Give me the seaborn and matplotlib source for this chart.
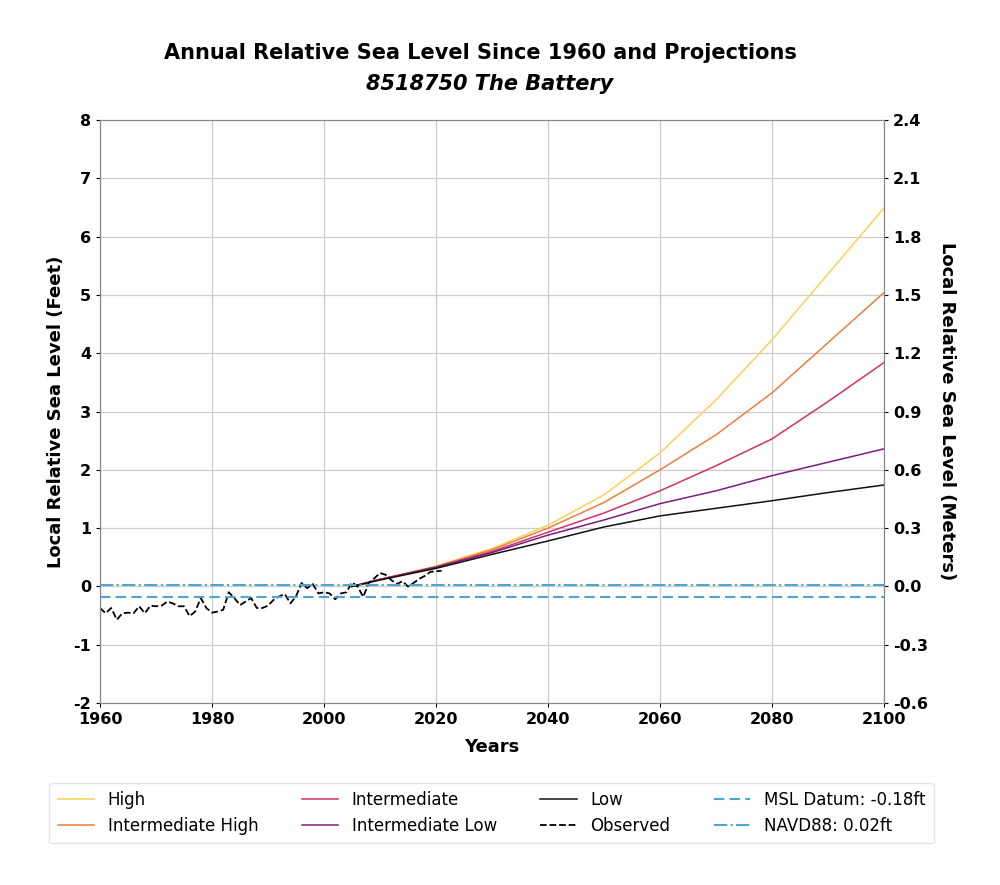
import matplotlib
matplotlib.use('Agg')
import matplotlib.pyplot as plt
import seaborn as sns
import pandas as pd

plt.rcParams['axes.unicode_minus'] = False

# --- Data ---
proj_years = [2005, 2010, 2020, 2030, 2040, 2050, 2060, 2070, 2080, 2090, 2100]
high = [0.0, 0.12, 0.35, 0.65, 1.05, 1.57, 2.29, 3.20, 4.23, 5.36, 6.49]
int_high = [0.0, 0.12, 0.34, 0.63, 1.00, 1.44, 2.00, 2.60, 3.32, 4.18, 5.04]
intermediate = [0.0, 0.12, 0.33, 0.60, 0.93, 1.26, 1.64, 2.07, 2.53, 3.17, 3.84]
int_low = [0.0, 0.12, 0.33, 0.58, 0.88, 1.14, 1.42, 1.64, 1.90, 2.13, 2.36]
low = [0.0, 0.11, 0.31, 0.55, 0.78, 1.02, 1.21, 1.34, 1.47, 1.61, 1.74]

obs_years = list(range(1960, 2022))
observed = [-0.37, -0.46, -0.37, -0.57, -0.46, -0.45, -0.46, -0.34, -0.46, -0.33,
            -0.34, -0.33, -0.26, -0.29, -0.34, -0.34, -0.51, -0.43, -0.20, -0.37,
            -0.45, -0.43, -0.40, -0.10, -0.20, -0.32, -0.26, -0.20, -0.37, -0.37,
            -0.33, -0.23, -0.17, -0.13, -0.29, -0.17, 0.06, -0.03, 0.04, -0.12,
            -0.10, -0.12, -0.22, -0.12, -0.10, 0.07, 0.00, -0.18, 0.06, 0.14,
            0.23, 0.20, 0.11, 0.04, 0.09, 0.00, 0.06, 0.13, 0.18, 0.25,
            0.26, 0.27]

msl_datum = -0.18
navd88 = 0.02

series = [
    ('High', high, '#f7d257'),
    ('Intermediate High', int_high, '#ef7d3c'),
    ('Intermediate', intermediate, '#d1306c'),
    ('Intermediate Low', int_low, '#7d1d7f'),
    ('Low', low, '#111111'),
]

# --- Plot ---
fig = plt.figure(figsize=(10, 8.85), dpi=100)
ax = fig.add_axes([0.1, 0.2056, 0.784, 0.6588])

for name, vals, color in series:
    df = pd.DataFrame({'year': proj_years, 'ft': vals})
    sns.lineplot(data=df, x='year', y='ft', ax=ax, color=color, linewidth=1.1, label=name)

obs_df = pd.DataFrame({'year': obs_years, 'ft': observed})
sns.lineplot(data=obs_df, x='year', y='ft', ax=ax, color='black', linewidth=1.3,
             linestyle='--', label='Observed')

ax.axhline(msl_datum, color='#4ea6d0', linestyle=(0, (5, 2.5)), linewidth=1.5,
           label=f'MSL Datum: {msl_datum:.2f}ft')
ax.axhline(navd88, color='#4ea6d0', linestyle='-.', linewidth=1.5,
           label=f'NAVD88: {navd88:.2f}ft')

ax.set_xlim(1960, 2100)
ax.set_ylim(-2, 8)
ax.set_xticks(range(1960, 2101, 20))
ax.set_yticks(range(-2, 9))
ax.grid(True, color='#cccccc', linewidth=0.9)
ax.set_axisbelow(True)
for s in ax.spines.values():
    s.set_color('#888888')
ax.tick_params(colors='black', labelsize=11.5, length=3)
for lbl in ax.get_xticklabels() + ax.get_yticklabels():
    lbl.set_fontweight('bold')

ax.set_xlabel('Years', fontsize=13, fontweight='bold', labelpad=8)
ax.set_ylabel('Local Relative Sea Level (Feet)', fontsize=13, fontweight='bold', labelpad=6)

ax2 = ax.twinx()
ax2.set_ylim(-0.6, 2.4)
ax2.set_yticks([-0.6, -0.3, 0.0, 0.3, 0.6, 0.9, 1.2, 1.5, 1.8, 2.1, 2.4])
ax2.set_yticklabels([f'{v:.1f}' for v in ax2.get_yticks()], fontweight='bold', fontsize=11.5)
for s in ax2.spines.values():
    s.set_color('#888888')
ax2.tick_params(length=3)
ax2.set_ylabel('Local Relative Sea Level (Meters)', fontsize=13, fontweight='bold',
               rotation=270, labelpad=20)

if ax.legend_:
    ax.legend_.remove()
handles, labels = ax.get_legend_handles_labels()
fig.legend(handles, labels, loc='upper center', bbox_to_anchor=(0.4915, 0.125),
           ncol=4, fontsize=12, frameon=True, edgecolor='#dddddd',
           handlelength=2.2, columnspacing=2.6, borderpad=0.5, labelspacing=0.45)

fig.text(0.48, 0.94, 'Annual Relative Sea Level Since 1960 and Projections',
         ha='center', va='center', fontsize=15, fontweight='bold')
fig.text(0.49, 0.905, '8518750 The Battery', ha='center', va='center',
         fontsize=15, fontweight='bold', style='italic')

fig.savefig('out.png', dpi=100)
